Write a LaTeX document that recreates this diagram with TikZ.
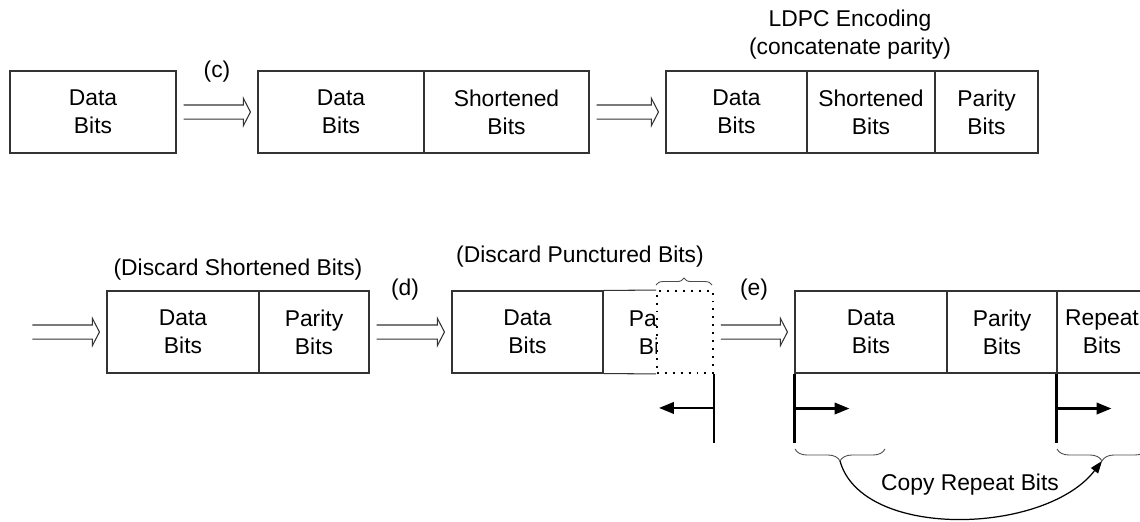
\documentclass[tikz,border=0pt]{standalone}
\usepackage{fontspec}
\setmainfont{Liberation Sans}
\usetikzlibrary{calc,arrows.meta,decorations.pathreplacing}

\tikzset{
  seg/.style={draw=black!80,line width=0.6pt,rectangle,inner sep=0pt,minimum height=1.64cm,align=center},
  dblarr/.style={draw=black!80,line width=0.6pt,line join=miter,to path={let \p1=(\tikztostart.east), \p2=(\tikztotarget.west) in
    (\x1+4pt,\y1+4pt) -- (\x2-8pt,\y1+4pt) -- (\x2-8pt,\y1+7.7pt) -- (\x2-4pt,\y1)
    -- (\x2-8pt,\y1-7.7pt) -- (\x2-8pt,\y1-4pt) -- (\x1+4pt,\y1-4pt)}},
  bar/.style={line width=1.4pt},
  movearr/.style={line width=1.4pt,-{Triangle[length=8.5pt,width=6.5pt]}},
  brc/.style={decorate,draw=black!70,line width=0.5pt,decoration={brace,amplitude=#1}},
  dotbox/.style={draw,fill=white,rectangle,inner sep=0pt,minimum height=1.64cm,line width=1.1pt,dash pattern=on 1.1pt off 3.4pt}
}

\begin{document}
\begin{tikzpicture}[x=0.02cm, y=-0.02cm, every node/.style={font=\fontsize{13}{16}\selectfont}]
  \useasboundingbox (0,0) rectangle (1140,521);

  % Row 1
  \node[seg,minimum width=3.32cm] (d1) at (93,112) {Data\\Bits};

  \node[seg,minimum width=3.32cm] (d2) at (341,112) {Data\\Bits};
  \node[seg,minimum width=3.30cm] (sh2) at (506.5,112) {Shortened\\Bits};

  \node[seg,minimum width=2.82cm] (d3) at (736.5,112) {Data\\Bits};
  \node[seg,minimum width=2.56cm] (sh3) at (871,112) {Shortened\\Bits};
  \node[seg,minimum width=2.06cm] (pa3) at (986.5,112) {Parity\\Bits};

  \node (lblc) at (217,72) {(c)};
  \node[align=center] (ldpc) at (850,35) {LDPC Encoding\\(concatenate parity)};

  \draw[dblarr] (d1) to (d2);
  \draw[dblarr] (sh2) to (d3);

  % Row 2
  \node[inner sep=0pt,minimum size=0pt] (in2) at (25,332) {};
  \node[seg,minimum width=3.04cm] (d4) at (183,332) {Data\\Bits};
  \node[seg,minimum width=2.2cm] (pa4) at (314,332) {Parity\\Bits};

  \node[seg,minimum width=3.02cm] (d5) at (527.5,332) {Data\\Bits};
  \node[seg,draw=none,minimum width=2.2cm] (pa5) at (658,332) {Parity\\Bits};
  \node[dotbox,minimum width=1.12cm] (punct) at (685,332) {};
  \draw[black!80,line width=0.6pt] (d5.north east) -- (punct.north west);
  \draw[black!80,line width=0.6pt] (d5.south east) -- (punct.south west);

  \node[seg,minimum width=3.04cm] (d6) at (871,332) {Data\\Bits};
  \node[seg,minimum width=2.2cm] (pa6) at (1002,332) {Parity\\Bits};
  \node[seg,minimum width=1.8cm] (rep6) at (1102,332) {Repeat\\Bits};

  \node (lblshort) at (238,270) {(Discard Shortened Bits)};
  \node (lbld) at (405,290) {(d)};
  \node (lblpunct) at (580,257) {(Discard Punctured Bits)};
  \node (lble) at (754,290) {(e)};

  \draw[dblarr] (in2) to (d4);
  \draw[dblarr] (pa4) to (d5);
  \draw[dblarr] (punct) to (d6);

  \draw[brc=0.14cm] (punct.north west) ++(0,-5) -- ++(56,0);

  % Bars and moves
  \draw[bar] (punct.south east) -- ++(0,69);
  \draw[movearr] ($(punct.south east)+(0,34)$) -- ++(-55,0);
  \draw[bar] (d6.south west) -- ++(0,69);
  \draw[movearr] ($(d6.south west)+(0,35)$) -- ++(55,0);
  \draw[bar] (rep6.south west) -- ++(0,69);
  \draw[movearr] ($(rep6.south west)+(0,35)$) -- ++(55,0);

  % Copy
  \draw[brc={0.24cm,mirror}] (795,449) -- (885,449);
  \draw[brc={0.24cm,mirror}] (1057,449) -- (1147,449);
  \coordinate (cpl) at (840,461);
  \coordinate (cpr) at (1102,461);
  \draw[line width=0.7pt,-{Triangle[length=7pt,width=5pt]}] (cpl) .. controls (862,540) and (1045,535) .. (cpr);
  \node (lblcopy) at (970,485) {Copy Repeat Bits};
\end{tikzpicture}
\end{document}
